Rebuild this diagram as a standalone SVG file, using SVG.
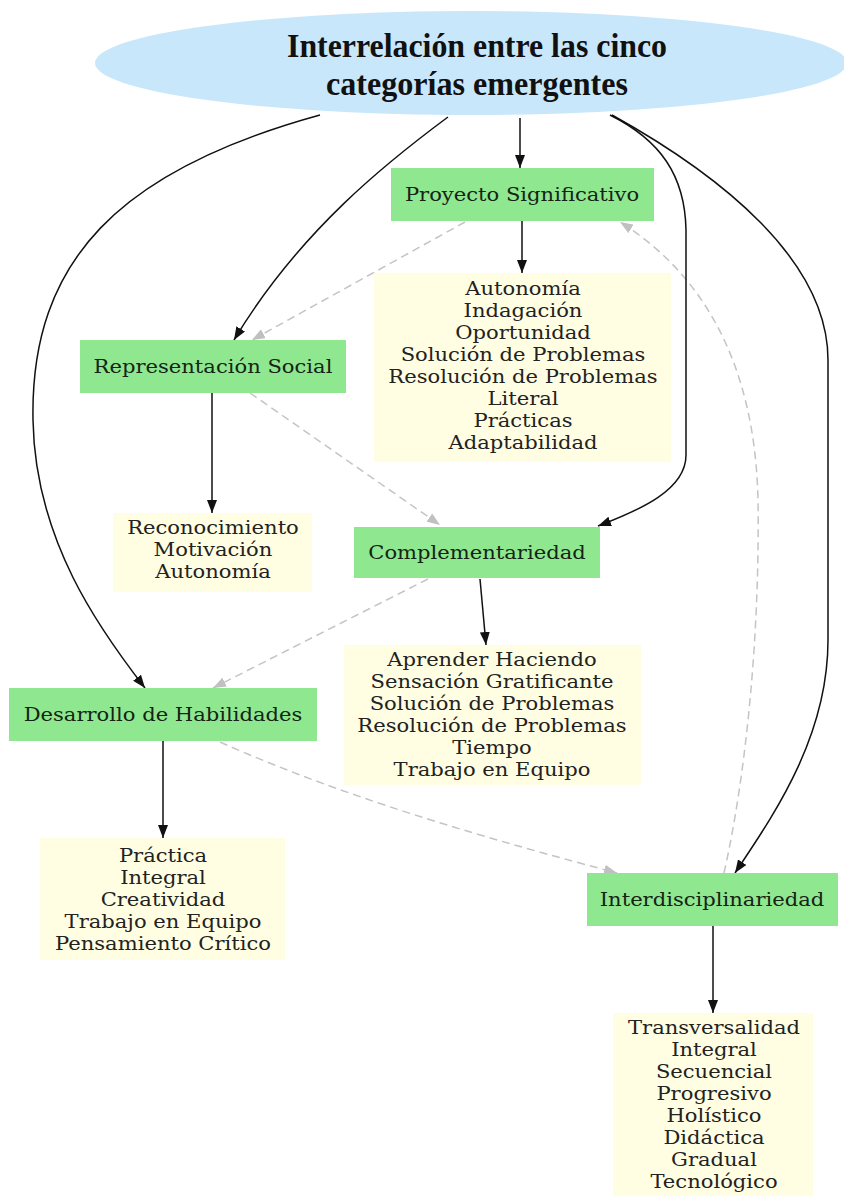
<svg xmlns="http://www.w3.org/2000/svg" width="844" height="1198" viewBox="0 0 844 1198">
  <style>
    .title { font-family: "Liberation Serif", "Times New Roman", serif; font-weight: bold; font-size: 33px; fill: #111; text-anchor: middle; }
    .cat rect { fill: #8fe88f; }
    .cat text { font-family: "DejaVu Serif", serif; font-size: 19px; fill: #142414; text-anchor: middle; }
    .lst rect { fill: #fffee2; }
    .lst text { font-family: "DejaVu Serif", serif; font-size: 19px; fill: #222; text-anchor: middle; }
    .solid { fill: none; stroke: #111; stroke-width: 1.5; marker-end: url(#arrowBlack); }
    .dash { fill: none; stroke: #c4c4c4; stroke-width: 1.5; stroke-dasharray: 8 5; marker-end: url(#arrowGray); }
  </style>
  <defs>
    <marker id="arrowBlack" viewBox="0 0 13 10" refX="13" refY="5" markerWidth="13" markerHeight="10" markerUnits="userSpaceOnUse" orient="auto">
      <path d="M0,0 L13,5 L0,10 z" fill="#111"/>
    </marker>
    <marker id="arrowGray" viewBox="0 0 13 10" refX="13" refY="5" markerWidth="13" markerHeight="10" markerUnits="userSpaceOnUse" orient="auto">
      <path d="M0,0 L13,5 L0,10 z" fill="#c0c0c0"/>
    </marker>
  </defs>

  <rect width="844" height="1198" fill="#ffffff"/>

  <!-- connectors -->
  <g id="connectors">
    <!-- dashed relations between categories -->
    <path class="dash" d="M465,222 L252,340"/>
    <path class="dash" d="M250,393 L440,525"/>
    <path class="dash" d="M428,579 L213,688"/>
    <path class="dash" d="M220,742 C350,800 500,842 617,873"/>
    <path class="dash" d="M724,873 C745,780 760,640 758,500 C755,360 700,272 620,222"/>

    <!-- root to categories -->
    <path class="solid" d="M520,118 L520,168"/>
    <path class="solid" d="M448,117 C390,160 300,230 234,340"/>
    <path class="solid" d="M320,115 C120,170 30,260 33,420 C35,540 100,630 145,688"/>
    <path class="solid" d="M610,115 C660,140 685,175 686,230 L686,455 C686,490 640,510 598,526"/>
    <path class="solid" d="M612,115 C720,175 828,260 828,360 L828,640 C828,740 770,820 735,873"/>

    <!-- categories to their attributes -->
    <path class="solid" d="M522,221 L522,273"/>
    <path class="solid" d="M212,393 L212,513"/>
    <path class="solid" d="M480,579 L486,645"/>
    <path class="solid" d="M163,741 L163,838"/>
    <path class="solid" d="M713,926 L713,1013"/>
  </g>

  <!-- root -->
  <g id="root">
    <ellipse cx="471" cy="63" rx="376" ry="52" fill="#c9e7fb"/>
    <text class="title" x="477" y="57" textLength="380" lengthAdjust="spacingAndGlyphs">Interrelación entre las cinco</text>
    <text class="title" x="477" y="95" textLength="302" lengthAdjust="spacingAndGlyphs">categorías emergentes</text>
  </g>

  <!-- categories (labels widened slightly about their centre) -->
  <g id="proyecto" class="cat">
    <rect x="391" y="168" width="263" height="53"/>
    <g transform="translate(522,0) scale(1.11,1)"><text x="0" y="201">Proyecto Significativo</text></g>
  </g>
  <g id="representacion" class="cat">
    <rect x="80" y="340" width="266" height="53"/>
    <g transform="translate(213,0) scale(1.11,1)"><text x="0" y="373">Representación Social</text></g>
  </g>
  <g id="complementariedad" class="cat">
    <rect x="354" y="527" width="246" height="51"/>
    <g transform="translate(477,0) scale(1.11,1)"><text x="0" y="559">Complementariedad</text></g>
  </g>
  <g id="desarrollo" class="cat">
    <rect x="9" y="688" width="308" height="53"/>
    <g transform="translate(163,0) scale(1.11,1)"><text x="0" y="721">Desarrollo de Habilidades</text></g>
  </g>
  <g id="interdisciplinariedad" class="cat">
    <rect x="587" y="873" width="251" height="53"/>
    <g transform="translate(712,0) scale(1.11,1)"><text x="0" y="906">Interdisciplinariedad</text></g>
  </g>

  <!-- attribute lists -->
  <g id="proyecto-atributos" class="lst">
    <rect x="374" y="273" width="297" height="189"/>
    <g transform="translate(523,0) scale(1.11,1)">
      <text x="0" y="295">Autonomía</text>
      <text x="0" y="317">Indagación</text>
      <text x="0" y="339">Oportunidad</text>
      <text x="0" y="361">Solución de Problemas</text>
      <text x="0" y="383">Resolución de Problemas</text>
      <text x="0" y="405">Literal</text>
      <text x="0" y="427">Prácticas</text>
      <text x="0" y="449">Adaptabilidad</text>
    </g>
  </g>
  <g id="representacion-atributos" class="lst">
    <rect x="113" y="513" width="199" height="79"/>
    <g transform="translate(213,0) scale(1.11,1)">
      <text x="0" y="534">Reconocimiento</text>
      <text x="0" y="556">Motivación</text>
      <text x="0" y="578">Autonomía</text>
    </g>
  </g>
  <g id="complementariedad-atributos" class="lst">
    <rect x="344" y="645" width="297" height="140"/>
    <g transform="translate(492,0) scale(1.11,1)">
      <text x="0" y="666">Aprender Haciendo</text>
      <text x="0" y="688">Sensación Gratificante</text>
      <text x="0" y="710">Solución de Problemas</text>
      <text x="0" y="732">Resolución de Problemas</text>
      <text x="0" y="754">Tiempo</text>
      <text x="0" y="776">Trabajo en Equipo</text>
    </g>
  </g>
  <g id="desarrollo-atributos" class="lst">
    <rect x="40" y="838" width="245" height="122"/>
    <g transform="translate(163,0) scale(1.11,1)">
      <text x="0" y="862">Práctica</text>
      <text x="0" y="884">Integral</text>
      <text x="0" y="906">Creatividad</text>
      <text x="0" y="928">Trabajo en Equipo</text>
      <text x="0" y="950">Pensamiento Crítico</text>
    </g>
  </g>
  <g id="interdisciplinariedad-atributos" class="lst">
    <rect x="613" y="1013" width="200" height="183"/>
    <g transform="translate(714,0) scale(1.11,1)">
      <text x="0" y="1034">Transversalidad</text>
      <text x="0" y="1056">Integral</text>
      <text x="0" y="1078">Secuencial</text>
      <text x="0" y="1100">Progresivo</text>
      <text x="0" y="1122">Holístico</text>
      <text x="0" y="1144">Didáctica</text>
      <text x="0" y="1166">Gradual</text>
      <text x="0" y="1188">Tecnológico</text>
    </g>
  </g>
</svg>
